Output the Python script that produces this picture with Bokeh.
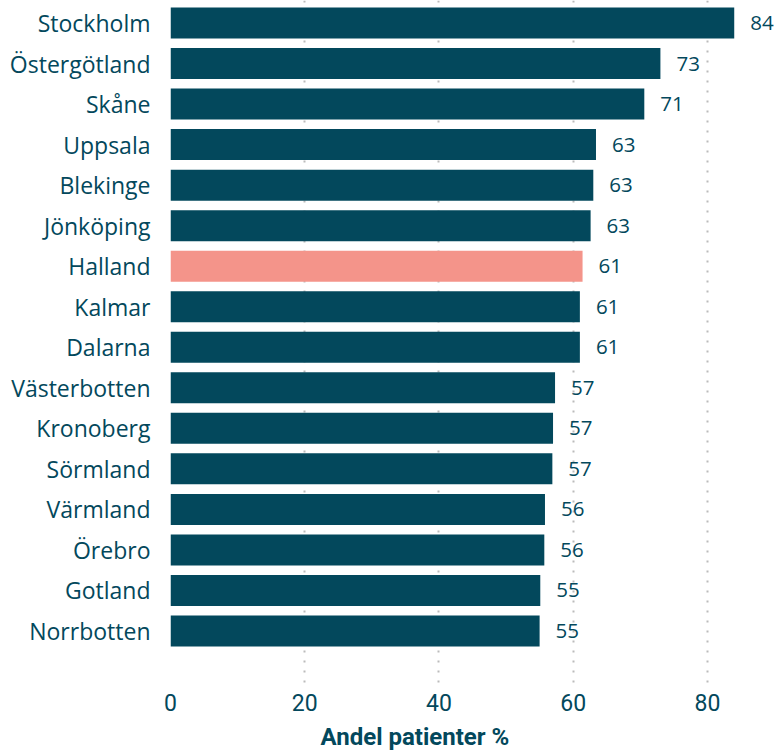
from bokeh.plotting import figure
from bokeh.models import ColumnDataSource, Range1d, FixedTicker, Title
from bokeh.core.properties import value
from bokeh.embed import file_html
from bokeh.resources import INLINE

regions = ["Stockholm", "Östergötland", "Skåne", "Uppsala", "Blekinge", "Jönköping",
           "Halland", "Kalmar", "Dalarna", "Västerbotten", "Kronoberg", "Sörmland",
           "Värmland", "Örebro", "Gotland", "Norrbotten"]
shares = [84.0, 73.0, 70.6, 63.4, 63.0, 62.6, 61.4, 61.0, 61.0, 57.3, 57.0, 56.9,
          55.8, 55.7, 55.1, 55.0]
highlight = "Halland"
x_ticks = [0, 20, 40, 60, 80]
x_title = "Andel patienter %"

TEAL = "#03485C"
SALMON = "#F4948A"

pos = list(range(len(regions)))
colors = [SALMON if r == highlight else TEAL for r in regions]
labels = [str(int(round(v))) for v in shares]

src = ColumnDataSource(dict(region=regions, y=pos, share=shares, color=colors, label=labels))

p = figure(frame_width=604, frame_height=690,
           x_range=Range1d(0, 90.0), y_range=Range1d(len(regions) + 0.468, -0.555),
           output_backend="svg", toolbar_location=None,
           min_border_left=170, min_border_right=0, min_border_top=0, min_border_bottom=0)

p.hbar(y="y", left=0, right="share", height=0.765, color="color", line_color=None, source=src)
p.text(x="share", y="y", text="label", source=src, x_offset=16,
       text_align="left", text_baseline="middle", text_color=TEAL,
       text_font=value("Open Sans"), text_font_size="20.5px")

p.outline_line_color = None
p.ygrid.grid_line_color = None
p.xgrid.grid_line_color = "#BBBBBB"
p.xgrid.grid_line_dash = "2 8"
p.xgrid.grid_line_width = 2
p.xaxis.ticker = FixedTicker(ticks=x_ticks)
p.yaxis.ticker = FixedTicker(ticks=pos)
p.yaxis.major_label_overrides = {i: r for i, r in enumerate(regions)}

for ax in (p.xaxis[0], p.yaxis[0]):
    ax.axis_line_color = None
    ax.major_tick_line_color = None
    ax.minor_tick_line_color = None
    ax.major_tick_out = 0
    ax.major_tick_in = 0
    ax.major_label_text_color = TEAL

p.yaxis.major_label_text_font = "Open Sans"
p.yaxis.major_label_text_font_size = "23px"
p.yaxis.major_label_standoff = 20
p.xaxis.major_label_text_font = "Roboto"
p.xaxis.major_label_text_font_size = "23px"
p.xaxis.major_label_standoff = 3

p.add_layout(Title(text=x_title, align="left", offset=150, standoff=14,
                   text_color=TEAL, text_font="Roboto", text_font_style="bold",
                   text_font_size="24px"), "below")

open("out.html", "w").write(file_html(p, INLINE))
